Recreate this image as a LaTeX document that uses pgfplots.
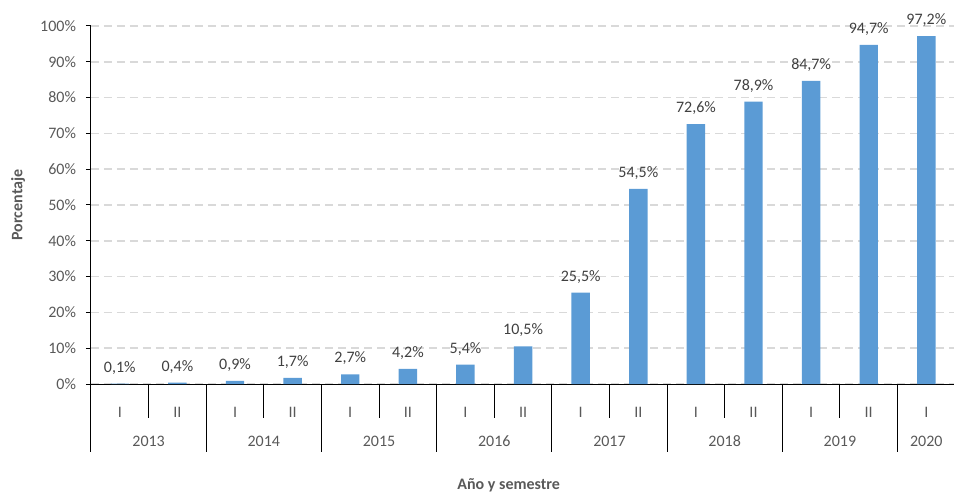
\documentclass[border=0pt]{standalone}
\usepackage{pgfplots}
\pgfplotsset{compat=1.18}
\usepackage{fontspec}
\setmainfont{Carlito}
\definecolor{barblue}{HTML}{5B9BD5}
\definecolor{ticktext}{HTML}{595959}
\definecolor{valtext}{HTML}{404040}
\definecolor{gridgray}{HTML}{D9D9D9}

\begin{document}
\begin{tikzpicture}[font=\fontsize{12pt}{14pt}\selectfont]
\path[use as bounding box] (-68.25pt,-81.75pt) rectangle (647.25pt,288pt);
\begin{axis}[
    scale only axis,
    width=647.25pt, height=268.5pt,
    xmin=-0.5, xmax=14.48,
    ymin=0, ymax=100,
    clip=false,
    axis x line*=bottom,
    axis y line*=left,
    axis line style={black, line width=0.75pt},
    ytick={0,10,...,100},
    yticklabel={\pgfmathprintnumber{\tick}\%},
    /pgf/number format/assume math mode=true,
    yticklabel style={ticktext, xshift=-4pt},
    ytick style={black, line width=0.75pt},
    tick align=outside,
    major tick length=3.75pt,
    ymajorgrids,
    grid style={gridgray, line width=1.1pt, dash pattern=on 6pt off 3.75pt},
    xtick={0,...,14},
    xticklabels={I,II,I,II,I,II,I,II,I,II,I,II,I,II,I},
    x tick style={draw=none},
    xticklabel style={ticktext, anchor=center, yshift=-17.25pt},
    ybar,
    bar width=0.32,
    nodes near coords={\pgfmathprintnumber[fixed,zerofill,precision=1,use comma]{\pgfplotspointmeta}\%},
    every node near coord/.append style={valtext, yshift=3.5pt},
]
\addplot[fill=barblue, draw=none] coordinates {
    (0,0.1) (1,0.4) (2,0.9) (3,1.7) (4,2.7) (5,4.2) (6,5.4) (7,10.5)
    (8,25.5) (9,54.5) (10,72.6) (11,78.9) (12,84.7) (13,94.7) (14,97.2)
};
% separators of the two-level category axis
\draw[black, line width=0.75pt] (axis cs:0.5,0) -- ++(0pt,-25.5pt);
\draw[black, line width=0.75pt] (axis cs:2.5,0) -- ++(0pt,-25.5pt);
\draw[black, line width=0.75pt] (axis cs:4.5,0) -- ++(0pt,-25.5pt);
\draw[black, line width=0.75pt] (axis cs:6.5,0) -- ++(0pt,-25.5pt);
\draw[black, line width=0.75pt] (axis cs:8.5,0) -- ++(0pt,-25.5pt);
\draw[black, line width=0.75pt] (axis cs:10.5,0) -- ++(0pt,-25.5pt);
\draw[black, line width=0.75pt] (axis cs:12.5,0) -- ++(0pt,-25.5pt);
\draw[black, line width=0.75pt] (axis cs:-0.5,0) -- ++(0pt,-51pt);
\draw[black, line width=0.75pt] (axis cs:1.5,0) -- ++(0pt,-51pt);
\draw[black, line width=0.75pt] (axis cs:3.5,0) -- ++(0pt,-51pt);
\draw[black, line width=0.75pt] (axis cs:5.5,0) -- ++(0pt,-51pt);
\draw[black, line width=0.75pt] (axis cs:7.5,0) -- ++(0pt,-51pt);
\draw[black, line width=0.75pt] (axis cs:9.5,0) -- ++(0pt,-51pt);
\draw[black, line width=0.75pt] (axis cs:11.5,0) -- ++(0pt,-51pt);
\draw[black, line width=0.75pt] (axis cs:13.5,0) -- ++(0pt,-51pt);
% year labels
\node[ticktext] at ([yshift=-43pt]axis cs:0.5,0) {2013};
\node[ticktext] at ([yshift=-43pt]axis cs:2.5,0) {2014};
\node[ticktext] at ([yshift=-43pt]axis cs:4.5,0) {2015};
\node[ticktext] at ([yshift=-43pt]axis cs:6.5,0) {2016};
\node[ticktext] at ([yshift=-43pt]axis cs:8.5,0) {2017};
\node[ticktext] at ([yshift=-43pt]axis cs:10.5,0) {2018};
\node[ticktext] at ([yshift=-43pt]axis cs:12.5,0) {2019};
\node[ticktext] at ([yshift=-43pt]axis cs:14,0) {2020};
% axis titles
\node[ticktext, font=\fontsize{12pt}{14pt}\selectfont\bfseries] at ([yshift=-76pt]axis cs:6.75,0) {Año y semestre};
\node[ticktext, font=\fontsize{12pt}{14pt}\selectfont\bfseries, rotate=90] at ([xshift=-54.75pt]rel axis cs:0,0.5) {Porcentaje};
\end{axis}
\end{tikzpicture}
\end{document}
